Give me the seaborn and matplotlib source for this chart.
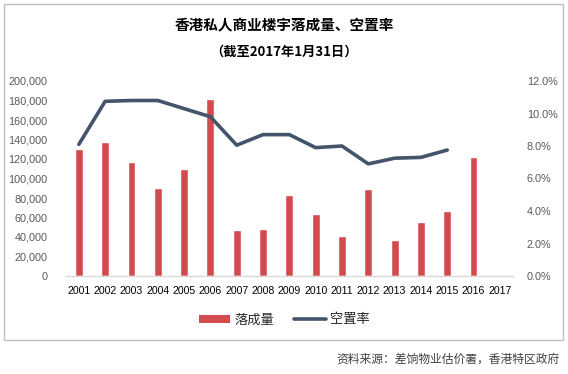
import matplotlib
matplotlib.use("Agg")
import matplotlib.pyplot as plt
import seaborn as sns
import numpy as np
import pandas as pd
from matplotlib.patches import Patch, Rectangle
from matplotlib.lines import Line2D
from matplotlib.ticker import FuncFormatter, FixedLocator

years = ["2001", "2002", "2003", "2004", "2005", "2006", "2007", "2008", "2009",
         "2010", "2011", "2012", "2013", "2014", "2015", "2016", "2017"]
completions = [130000, 137500, 117000, 90500, 109500, 181500, 47500, 48500, 83000,
               63500, 41000, 89000, 37000, 55500, 66500, 122000, 1000]
vacancy = [8.1, 10.75, 10.8, 10.8, 10.3, 9.8, 8.05, 8.7, 8.7,
           7.9, 8.0, 6.9, 7.25, 7.3, 7.75, np.nan, np.nan]

title = "香港私人商业楼宇落成量、空置率"
subtitle = "（截至2017年1月31日）"
source = "资料来源：差饷物业估价署，香港特区政府"
bar_label = "落成量"
line_label = "空置率"

sns.set_theme(style="white")
plt.rcParams['font.family'] = ['Noto Sans CJK SC', 'DejaVu Sans']

bar_color = "#D24B4E"
line_color = "#44546A"
tick_color = "#595959"
num_font = ['Liberation Sans', 'DejaVu Sans']

df = pd.DataFrame({"year": years, "completions": completions, "vacancy": vacancy})
df["pos"] = np.arange(len(df))

fig = plt.figure(figsize=(5.68, 3.74), dpi=100)
# outer frame
fig.patches.append(Rectangle((4 / 568, 1 - 340 / 374), (563 - 4) / 568, (340 - 4) / 374,
                             transform=fig.transFigure, fill=False,
                             edgecolor="#BFBFBF", linewidth=1.0))

ax = fig.add_axes([65.7 / 568, 1 - 276 / 374, (513 - 65.7) / 568, (276 - 81) / 374])
sns.barplot(data=df, x="year", y="completions", color=bar_color, width=0.3,
            saturation=1, ax=ax)
ax.set_ylim(0, 200000)
ax.set_xlim(-0.5, len(years) - 0.5)
ax.set_yticks(np.arange(0, 200001, 20000))
ax.yaxis.set_major_formatter(FuncFormatter(lambda v, p: f"{int(v):,}"))
ax.set_xlabel("")
ax.set_ylabel("")
for s in ["top", "right", "left"]:
    ax.spines[s].set_visible(False)
ax.spines["bottom"].set_color("#D9D9D9")
ax.spines["bottom"].set_linewidth(1.0)
ax.tick_params(axis="y", length=0, labelsize=7.8, colors=tick_color, pad=13)
ax.tick_params(axis="x", which="major", length=0, labelsize=7.6, labelcolor="#000000", pad=7)
ax.xaxis.set_minor_locator(FixedLocator(np.arange(-0.5, len(years), 1.0)))
ax.tick_params(axis="x", which="minor", length=4, color="#D9D9D9", width=1)
ax.grid(False)
for lab in ax.get_xticklabels() + ax.get_yticklabels():
    lab.set_fontfamily(num_font)

ax2 = ax.twinx()
sns.lineplot(data=df, x="pos", y="vacancy", color=line_color, linewidth=2.6, ax=ax2)
ax2.set_ylim(0, 12)
ax2.set_xlim(-0.5, len(years) - 0.5)
ax2.set_yticks(np.arange(0, 12.1, 2))
ax2.yaxis.set_major_formatter(FuncFormatter(lambda v, p: f"{v:.1f}%"))
ax2.set_ylabel("")
ax2.set_xlabel("")
for s in ["top", "right", "left", "bottom"]:
    ax2.spines[s].set_visible(False)
ax2.tick_params(axis="y", length=0, labelsize=7.8, colors=tick_color, pad=10)
ax2.grid(False)
for lab in ax2.get_yticklabels():
    lab.set_fontfamily(num_font)

fig.text(284 / 568, 1 - 25 / 374, title, ha="center", va="center",
         fontsize=10.5, fontweight="bold", color="#000000")
fig.text(284 / 568, 1 - 52 / 374, subtitle, ha="center", va="center",
         fontsize=9.5, fontweight="bold", color="#000000")

handles = [Patch(facecolor=bar_color, edgecolor="none", label=bar_label),
           Line2D([0], [0], color=line_color, linewidth=2.6, label=line_label)]
fig.legend(handles=handles, loc="center", bbox_to_anchor=(284 / 568, 1 - 320 / 374),
           ncol=2, frameon=False, fontsize=9.5, handlelength=2.4, handleheight=0.5,
           columnspacing=1.5, handletextpad=0.3)

fig.text(560 / 568, 1 - 359 / 374, source, ha="right", va="center",
         fontsize=8.5, color="#404040")

fig.savefig("out.png", dpi=100)
